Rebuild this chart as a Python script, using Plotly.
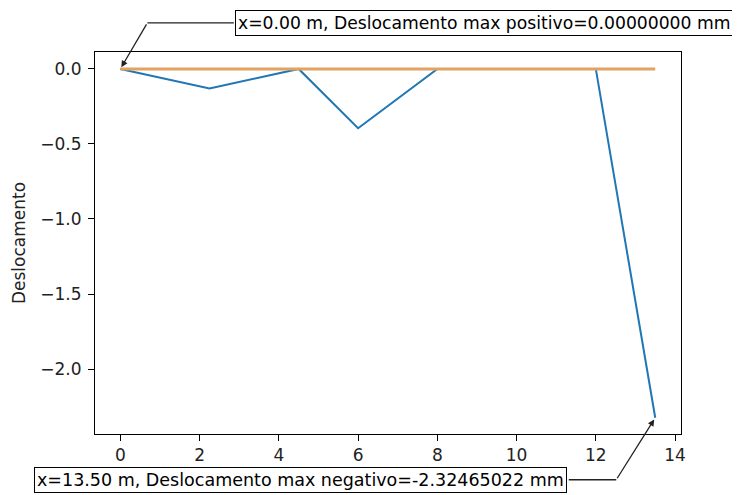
import plotly.graph_objects as go

# Data
x_pos = [0.0, 2.25, 4.5, 6.0, 8.0, 12.0, 13.5]
desloc = [0.0, -0.13, 0.0, -0.395, 0.0, 0.0, -2.32465022]
desloc_pos = [0.0, 0.0, 0.0, 0.0, 0.0, 0.0, 0.0]
x_ticks = [0, 2, 4, 6, 8, 10, 12, 14]
y_ticks = [0.0, -0.5, -1.0, -1.5, -2.0]

max_pos_x, max_pos_y = 0.0, 0.0
max_neg_x, max_neg_y = 13.5, -2.32465022

FONT = "DejaVu Sans"
FS = 17
ARROW_C = "#222"

fig = go.Figure()
fig.add_trace(go.Scatter(x=x_pos, y=desloc, mode="lines",
                         line=dict(color="#1f77b4", width=2), showlegend=False))
fig.add_trace(go.Scatter(x=x_pos, y=desloc_pos, mode="lines",
                         line=dict(color="#e3a262", width=3), showlegend=False))


def elbow_annotation(px, py, text, elbow_dx, elbow_dy, box_dx, anchor, fsize):
    # text box
    fig.add_annotation(x=px, y=py, xref="x", yref="y", text=text,
                       showarrow=False, xanchor=anchor, yanchor="middle",
                       xshift=box_dx, yshift=-elbow_dy, bordercolor="black",
                       borderwidth=1, borderpad=2, bgcolor="white",
                       font=dict(family=FONT, size=fsize, color="black"))
    # arrow from elbow to the point
    fig.add_annotation(x=px, y=py, xref="x", yref="y", text="",
                       showarrow=True, ax=elbow_dx, ay=elbow_dy, arrowhead=2,
                       arrowsize=1, arrowwidth=1.3, arrowcolor=ARROW_C, standoff=2)
    # horizontal segment from elbow to the box
    fig.add_annotation(x=px, y=py, xref="x", yref="y", text="",
                       showarrow=True, ax=box_dx - elbow_dx, ay=0, arrowhead=0,
                       arrowwidth=1.3, arrowcolor=ARROW_C,
                       xshift=elbow_dx, yshift=-elbow_dy)


elbow_annotation(max_pos_x, max_pos_y,
                 f"x={max_pos_x:.2f} m, Deslocamento max positivo={max_pos_y:.8f} mm",
                 27, -46, 115, "left", 17.2)
elbow_annotation(max_neg_x, max_neg_y,
                 f"x={max_neg_x:.2f} m, Deslocamento max negativo={max_neg_y:.8f} mm",
                 -39, 62, -88, "right", 17.5)

axis_common = dict(showgrid=False, zeroline=False, showline=True, linecolor="black",
                   linewidth=1, mirror=True, ticks="outside", ticklen=6,
                   tickcolor="black", tickwidth=1, automargin=False,
                   tickfont=dict(family=FONT, size=FS, color="#222"))

fig.update_xaxes(range=[-0.64, 14.15], tickvals=x_ticks,
                 ticktext=[str(v) for v in x_ticks], **axis_common)
fig.update_yaxes(range=[-2.433, 0.113], tickvals=y_ticks,
                 ticktext=[f"{v:.1f}".replace("-", "\u2212") for v in y_ticks],
                 title=dict(text="Deslocamento", font=dict(family=FONT, size=FS, color="#222"),
                            standoff=10),
                 ticklabelstandoff=3, **axis_common)

# the page body adds an 8px offset, so the figure is 8px smaller than the window
fig.update_layout(width=732, height=487, margin=dict(l=87, r=59, t=44, b=61),
                  plot_bgcolor="white", paper_bgcolor="white",
                  font=dict(family=FONT, size=FS, color="#222"))

fig.write_html("out.html")
